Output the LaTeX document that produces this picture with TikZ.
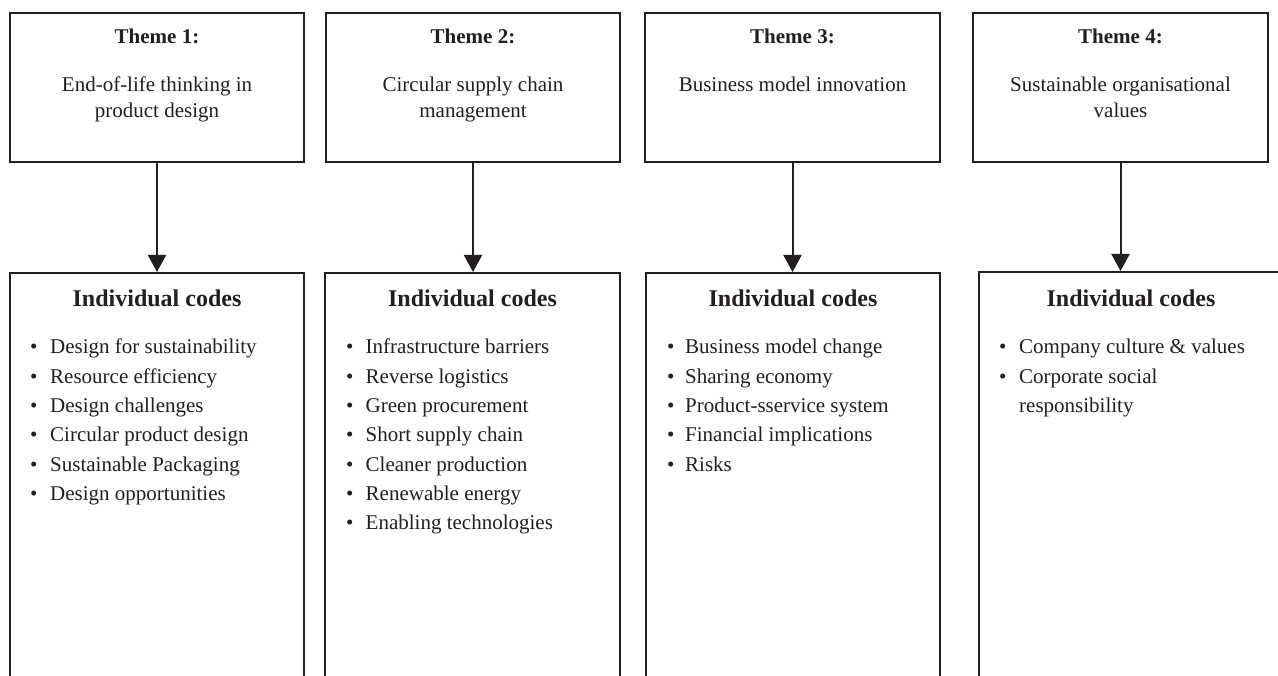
\documentclass[tikz,border=0pt]{standalone}
\usepackage{fontspec}
\setmainfont{Liberation Serif}
\usetikzlibrary{arrows.meta}
\definecolor{ink}{RGB}{35,31,32}
\begin{document}
\begin{tikzpicture}[x=1pt,y=-1pt,
  box/.style={draw=ink, line width=2pt, inner sep=0pt},
  ttl/.style={font=\fontsize{21}{25}\selectfont\bfseries, text=ink, inner sep=0pt, anchor=base},
  txt/.style={font=\fontsize{21}{25}\selectfont, text=ink, inner sep=0pt, anchor=base},
  hdr/.style={font=\fontsize{24}{28}\selectfont\bfseries, text=ink, inner sep=0pt, anchor=base},
  item/.style={font=\fontsize{21}{25}\selectfont, text=ink, inner sep=0pt, anchor=base west},
  conn/.style={draw=ink, line width=2pt, -{Triangle[width=18pt,length=17pt]}}
]
\useasboundingbox (0,0) rectangle (1278,676);
\clip (0,0) rectangle (1278,676);
\fill[white] (0,0) rectangle (1278,676);

% theme boxes
\node[box, minimum width=294pt, minimum height=149pt] (t1) at (157,87.5) {};
\node[box, minimum width=294pt, minimum height=149pt] (t2) at (473,87.5) {};
\node[box, minimum width=295pt, minimum height=149pt] (t3) at (792.5,87.5) {};
\node[box, minimum width=295pt, minimum height=149pt] (t4) at (1120.5,87.5) {};

% code boxes (run past the bottom edge)
\node[box, minimum width=294pt, minimum height=427pt] (b1) at (157,486.5) {};
\node[box, minimum width=295pt, minimum height=427pt] (b2) at (472.5,486.5) {};
\node[box, minimum width=294pt, minimum height=427pt] (b3) at (793,486.5) {};
\node[box, minimum width=304pt, minimum height=429pt] (b4) at (1131,486.5) {};

% connectors
\draw[conn] (t1.south) -- (t1.south |- b1.north);
\draw[conn] (t2.south) -- (t2.south |- b2.north);
\draw[conn] (t3.south) -- (t3.south |- b3.north);
\draw[conn] (t4.south) -- (t4.south |- b4.north);

% theme texts
\node[ttl] (t1h) at (157,44) {Theme 1:};
\node[txt] (t1a) at (157,92) {End-of-life thinking in};
\node[txt] (t1b) at (157,118) {product design};
\node[ttl] (t2h) at (473,44) {Theme 2:};
\node[txt] (t2a) at (473,92) {Circular supply chain};
\node[txt] (t2b) at (473,118) {management};
\node[ttl] (t3h) at (792.5,44) {Theme 3:};
\node[txt] (t3a) at (792.5,92) {Business model innovation};
\node[ttl] (t4h) at (1120.5,44) {Theme 4:};
\node[txt] (t4a) at (1120.5,92) {Sustainable organisational};
\node[txt] (t4b) at (1120.5,118) {values};

% code headers
\node[hdr] (b1h) at (157,306.5) {Individual codes};
\node[hdr] (b2h) at (472.5,306.5) {Individual codes};
\node[hdr] (b3h) at (793,306.5) {Individual codes};
\node[hdr] (b4h) at (1131,306.5) {Individual codes};

% items box 1
\foreach \t [count=\i] in {Design for sustainability, Resource efficiency, Design challenges, Circular product design, Sustainable Packaging, Design opportunities}{
  \node[item] (b1d\i) at (30,{354+29.3*(\i-1)}) {•};
  \node[item] (b1i\i) at (50,{354+29.3*(\i-1)}) {\t};
}
% items box 2
\foreach \t [count=\i] in {Infrastructure barriers, Reverse logistics, Green procurement, Short supply chain, Cleaner production, Renewable energy, Enabling technologies}{
  \node[item] (b2d\i) at (346,{354+29.3*(\i-1)}) {•};
  \node[item] (b2i\i) at (365.5,{354+29.3*(\i-1)}) {\t};
}
% items box 3
\foreach \t [count=\i] in {Business model change, Sharing economy, Product-sservice system, Financial implications, Risks}{
  \node[item] (b3d\i) at (667,{354+29.3*(\i-1)}) {•};
  \node[item] (b3i\i) at (685,{354+29.3*(\i-1)}) {\t};
}
% items box 4
\node[item] (b4d1) at (999,354) {•};
\node[item] (b4i1) at (1019,354) {Company culture \& values};
\node[item] (b4d2) at (999,383.3) {•};
\node[item] (b4i2) at (1019,383.3) {Corporate social};
\node[item] (b4i2b) at (1019,412.6) {responsibility};
\end{tikzpicture}
\end{document}
